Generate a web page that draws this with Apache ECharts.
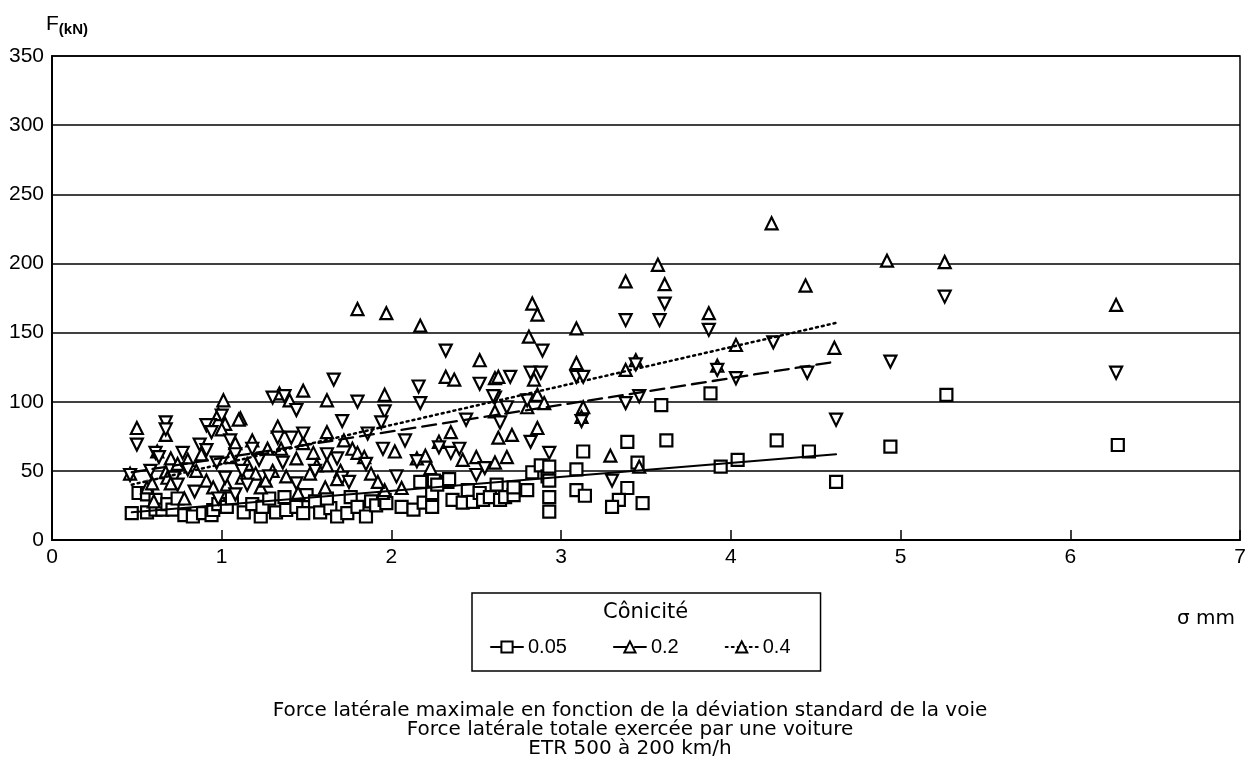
<!DOCTYPE html>
<html>
<head>
<meta charset="utf-8">
<script src="https://cdn.jsdelivr.net/npm/echarts@6/dist/echarts.min.js"></script>
<style>
html, body { margin: 0; padding: 0; background: #fff; }
#chartMain { width: 1260px; height: 768px; }
</style>
</head>
<body>
<div id="chartMain"></div>
<script>
// valeurs : [sigma (mm), F (kN)]
var seriesNames = ['0.05', '0.2', '0.4'];

// conicité 0.05 (carrés)
var pts005 = [
    [0.47,19.5],[0.51,34],[0.56,20],[0.56,33],[0.61,22],[0.61,29],[0.65,22],[0.68,26],[0.71,22],[0.74,30],
    [0.78,18],[0.83,17],[0.89,19.5],[0.94,18],[0.95,21.7],[0.98,26],[1.03,24],[1.06,30],[1.13,20],[1.18,26],
    [1.23,17],[1.24,24],[1.28,30],[1.32,20],[1.37,31],[1.38,21.7],[1.44,24],[1.48,19.5],[1.50,32.5],[1.55,28],
    [1.58,20],[1.64,23],[1.62,30],[1.68,17],[1.74,19.5],[1.76,31],[1.80,24],[1.85,17],[1.88,28],[1.91,25],
    [1.96,29],[1.97,26.7],[2.06,24],[2.13,22],[2.19,27],[2.24,24],[2.24,34],[2.17,42],[2.25,43],[2.33,42],
    [2.27,40],[2.34,44],[2.36,29],[2.42,27],[2.45,36],[2.48,27.5],[2.52,34],[2.54,29],[2.58,31],[2.62,40],
    [2.64,29],[2.67,31],[2.72,32.5],[2.72,38],[2.80,36],[2.83,49],[2.88,54],[2.92,46],[2.93,53],[2.93,43],
    [2.93,31],[2.93,20.5],[3.09,51],[3.09,36],[3.14,32],[3.13,64],[3.39,71],[3.62,72],[3.59,97.6],[3.88,106],
    [3.45,56],[3.39,37.6],[3.34,29],[3.30,24],[3.48,26.7],[3.94,53],[4.04,58],[4.27,72],[4.46,64],[4.62,42],
    [4.94,67.5],[5.27,105],[6.28,68.7]
];

// conicité 0.2 (triangles pointe en haut)
var pts02 = [
    [1.80,167],[1.97,164],[2.17,155],[2.83,171],[2.86,163],[2.81,147],[3.09,153],[3.38,187],[3.57,199],[3.61,185],
    [3.87,164],[4.24,229],[4.44,184],[4.92,202],[5.26,201],[6.27,170],
    [2.52,130],[3.09,128],[2.32,118],[2.37,116],[2.61,117],[2.63,118],[2.84,116],[3.38,123],[3.44,130],[3.92,126],
    [4.03,141],[4.61,139],[1.96,105],[1.48,108],[1.34,106],[1.01,101],[1.40,101],[1.62,101],[2.86,105],[2.90,99],
    [2.80,96],[3.13,96],[3.12,89],[2.61,93],[2.35,78],[2.86,81],[2.63,74],[2.71,76],[1.11,88],[1.33,82],
    [1.62,78],[1.27,66],[1.54,63],[1.77,66],[1.80,63],[1.84,60],[1.44,59],[1.56,54],[1.62,54],[1.61,38],
    [1.45,34],[1.23,38],[1.26,43],[1.95,34],[2.02,64],[2.28,71],[2.42,58],[2.50,60],[2.61,56],[2.68,60],
    [2.15,59],[2.20,61],[2.06,37.6],[1.96,36],[2.23,52],[3.29,61],[3.46,53],
    [0.50,81],[0.46,48],[0.67,76],[0.70,59],[0.74,55],[0.98,91],[0.56,38],[0.59,41],[0.67,49],[0.68,45],
    [0.70,41],[0.80,58],[0.91,43],[0.95,38],[1.02,84],[1.00,80],[1.10,87],[0.62,64],[0.85,50],[1.05,60],
    [1.08,70],[1.15,55],[1.20,48],[1.12,45],[1.18,72],[0.88,62],[1.03,40],[0.78,30],[0.60,28],[1.30,50],
    [1.38,46],[1.52,48],[1.70,50],[1.88,48],[1.92,42],[1.68,44],[1.35,66],[1.48,70],[1.72,72]
];

// conicité 0.4 (triangles pointe en bas)
var pts04 = [
    [3.38,159],[3.58,159],[3.61,171],[3.87,152],[5.26,176],[6.27,121],[4.94,129],[4.25,143],[4.03,117],[4.45,121],
    [4.62,87],[2.32,137],[2.89,137],[3.09,118],[3.13,118],[2.52,113],[2.70,118],[2.82,121],[2.88,121],[1.66,116],
    [1.80,100],[2.16,111],[2.17,99],[1.96,93],[1.94,85],[1.71,86],[2.44,87],[2.61,103],[2.68,96],[2.64,85],
    [2.82,71],[2.93,63],[3.38,99],[3.46,104],[3.12,86],[3.92,123],[3.44,127],[3.30,43],[2.60,104],[2.80,101],
    [1.30,103],[1.37,104],[1.44,94],[1.41,74],[1.48,77],[1.33,74],[1.86,77],[1.95,66],[1.68,59],[1.36,56],
    [1.71,45],[1.75,42],[1.44,41],[2.35,63],[2.40,66],[2.15,57],[2.03,46],[2.50,47],[2.28,67],[1.00,90],
    [0.93,83],[0.50,69],[0.46,47],[0.67,85],[0.67,80],[0.61,63],[0.63,60],[0.77,63],[0.91,83],[0.94,78],
    [0.87,69],[0.91,65],[0.84,35],[0.72,45],[0.74,40],[0.80,51],[0.97,56],[1.05,72],[1.08,62],[1.12,50],
    [1.18,66],[1.22,58],[0.58,50],[1.02,45],[1.15,40],[1.28,46],[1.55,50],[1.62,62],[1.85,55],[2.08,72],
    [2.55,52],[0.98,30],[1.08,33]
];

// droites de tendance (début, fin)
var trend005 = [[0.47, 20], [4.62, 62]];
var trend02 = [[0.47, 49], [4.62, 129]];
var trend04 = [[0.47, 40], [4.62, 157]];

var captionLines = [
    'Force latérale maximale en fonction de la déviation standard de la voie',
    'Force latérale totale exercée par une voiture',
    'ETR 500 à 200 km/h'
];

var fontName = '"Liberation Sans", Arial, Helvetica, sans-serif';
var wideFont = '"DejaVu Sans", Verdana, sans-serif';
var myChart = echarts.init(document.getElementById('chartMain'));

function trendSeries(name, data, sym, lineType, width) {
    return {
        name: name,
        type: 'line',
        data: data,
        symbol: sym,
        symbolSize: 12,
        showSymbol: false,
        silent: true,
        z: 4,
        itemStyle: {color: '#000', borderColor: '#000', borderWidth: 2},
        lineStyle: {color: '#000', width: width, type: lineType, cap: 'round'}
    };
}

function pointSeries(name, data, sym, rotate) {
    return {
        name: name,
        type: 'scatter',
        data: data,
        symbol: sym,
        symbolSize: 12,
        symbolRotate: rotate,
        z: 3,
        itemStyle: {color: '#fff', borderColor: '#000', borderWidth: 2.2, opacity: 1}
    };
}

var option = {
    animation: false,
    backgroundColor: '#fff',
    textStyle: {fontFamily: fontName, color: '#000'},
    grid: {
        left: 52, right: 20, top: 56, bottom: 228,
        show: true, borderColor: '#000', borderWidth: 1.5
    },
    xAxis: {
        type: 'value',
        min: 0, max: 7, interval: 1,
        axisLine: {show: true, lineStyle: {color: '#000', width: 2}},
        axisTick: {show: true, inside: true, length: 10, lineStyle: {color: '#000', width: 1.5}},
        splitLine: {show: false},
        axisLabel: {color: '#000', fontSize: 21, margin: 7, fontFamily: fontName}
    },
    yAxis: {
        type: 'value',
        min: 0, max: 350, interval: 50,
        axisLine: {show: true, lineStyle: {color: '#000', width: 2}},
        axisTick: {show: false},
        splitLine: {show: true, lineStyle: {color: '#000', width: 1.5}},
        axisLabel: {color: '#000', fontSize: 21, margin: 8, fontFamily: fontName}
    },
    legend: {
        data: seriesNames,
        left: 472, top: 593,
        padding: [44, 30, 14, 18],
        itemGap: 46,
        itemWidth: 32,
        itemHeight: 14,
        borderColor: '#000',
        borderWidth: 1.5,
        textStyle: {fontSize: 20, color: '#000', fontFamily: fontName}
    },
    graphic: [
        {
            type: 'text', left: 46, top: 14,
            style: {
                text: '{a|F}{b|(kN)}',
                rich: {
                    a: {fontSize: 21, fontFamily: fontName, fill: '#000'},
                    b: {fontSize: 15, fontWeight: 'bold', fontFamily: fontName, fill: '#000', padding: [10, 0, 0, 0]}
                }
            }
        },
        {
            type: 'text', left: 603, top: 602,
            style: {text: 'Cônicité', fontSize: 21, fontFamily: wideFont, fill: '#000'}
        },
        {
            type: 'text', left: 1177, top: 609,
            style: {text: 'σ mm', fontSize: 20, fontFamily: wideFont, fill: '#000'}
        },
        {
            type: 'text', left: 'center', top: 701,
            style: {
                text: captionLines.join('\n'),
                textAlign: 'center',
                fontSize: 20, lineHeight: 19,
                fontFamily: wideFont, fill: '#000'
            }
        }
    ],
    series: [
        trendSeries(seriesNames[0], trend005, 'emptyRect', 'solid', 2),
        trendSeries(seriesNames[1], trend02, 'emptyTriangle', [14, 7], 2.3),
        trendSeries(seriesNames[2], trend04, 'emptyTriangle', [2, 4], 2.5),
        pointSeries(seriesNames[0], pts005, 'rect', 0),
        pointSeries(seriesNames[1], pts02, 'triangle', 0),
        pointSeries(seriesNames[2], pts04, 'triangle', 180)
    ]
};

myChart.setOption(option);
</script>
</body>
</html>
